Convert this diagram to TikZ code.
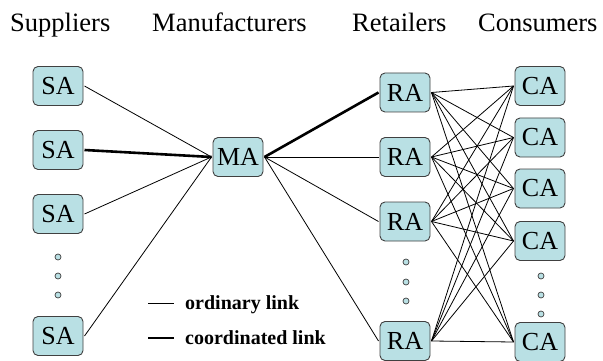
\documentclass[tikz,border=0pt]{standalone}
\usepackage{fontspec}
\setmainfont{Liberation Serif}
\definecolor{boxfill}{HTML}{B9E0E4}
\definecolor{boxline}{HTML}{404040}
\tikzset{
  agent/.style={draw=boxline, line width=0.9pt, fill=boxfill, rounded corners=5pt,
    minimum width=50pt, minimum height=39pt, inner sep=0pt, outer sep=1.5pt,
    font=\fontsize{26}{28}\selectfont},
  title/.style={anchor=base west, inner sep=0pt, font=\fontsize{26.5}{30}\selectfont},
  legtext/.style={anchor=base west, inner sep=0pt, font=\fontsize{20}{22}\selectfont\bfseries},
  ordlink/.style={line width=0.8pt, black},
  coordlink/.style={line width=2.6pt, black},
  ddot/.style={circle, draw=boxline, line width=0.7pt, fill=boxfill, minimum size=6pt, inner sep=0pt}
}
\begin{document}
\begin{tikzpicture}[x=1pt, y=-1pt]
\useasboundingbox (0,0) rectangle (603,361);
% titles
\node[title] (tS) at (10,32) {Suppliers};
\node[title] (tM) at (152,32) {Manufacturers};
\node[title] (tR) at (352,32) {Retailers};
\node[title] (tC) at (478,32) {Consumers};
% suppliers
\node[agent] (s1) at (58,86) {SA};
\node[agent] (s2) at (58,150) {SA};
\node[agent] (s3) at (58,214) {SA};
\node[agent] (s4) at (58,336) {SA};
\node[ddot] (sd1) at (58,257) {};
\node[ddot] (sd2) at (58,276) {};
\node[ddot] (sd3) at (58,295) {};
% manufacturer
\node[agent] (m) at (238,157) {MA};
% retailers
\node[agent] (r1) at (405,92.5) {RA};
\node[agent] (r2) at (405,157) {RA};
\node[agent] (r3) at (405,221.5) {RA};
\node[agent] (r4) at (405,341) {RA};
\node[ddot] (rd1) at (406,262) {};
\node[ddot] (rd2) at (406,282) {};
\node[ddot] (rd3) at (406,301) {};
% consumers
\node[agent] (c1) at (540,86) {CA};
\node[agent] (c2) at (540,137.5) {CA};
\node[agent] (c3) at (540,188.5) {CA};
\node[agent] (c4) at (540,241) {CA};
\node[agent] (c5) at (540,342) {CA};
\node[ddot] (cd1) at (541,276) {};
\node[ddot] (cd2) at (541,295) {};
\node[ddot] (cd3) at (541,314) {};
% links supplier -> manufacturer
\draw[ordlink] (s1.east) -- (m.west);
\draw[coordlink] (s2.east) -- (m.west);
\draw[ordlink] (s3.east) -- (m.west);
\draw[ordlink] (s4.east) -- (m.west);
% manufacturer -> retailers
\draw[coordlink] (m.east) -- (r1.west);
\draw[ordlink] (m.east) -- (r2.west);
\draw[ordlink] (m.east) -- (r3.west);
\draw[ordlink] (m.east) -- (r4.west);
% retailers -> consumers
\foreach \r in {r1,r2,r3,r4}{
  \foreach \c in {c1,c2,c3,c4,c5}{
    \draw[ordlink] (\r.east) -- (\c.west);
  }
}
% legend
\coordinate (l1a) at (148,303);
\coordinate (l1b) at (174,303);
\coordinate (l2a) at (148,338);
\coordinate (l2b) at (174,338);
\draw[ordlink] (l1a) -- (l1b);
\draw[coordlink] (l2a) -- (l2b);
\node[legtext] (lt1) at (185,309) {ordinary link};
\node[legtext] (lt2) at (185,344) {coordinated link};
\end{tikzpicture}
\end{document}
